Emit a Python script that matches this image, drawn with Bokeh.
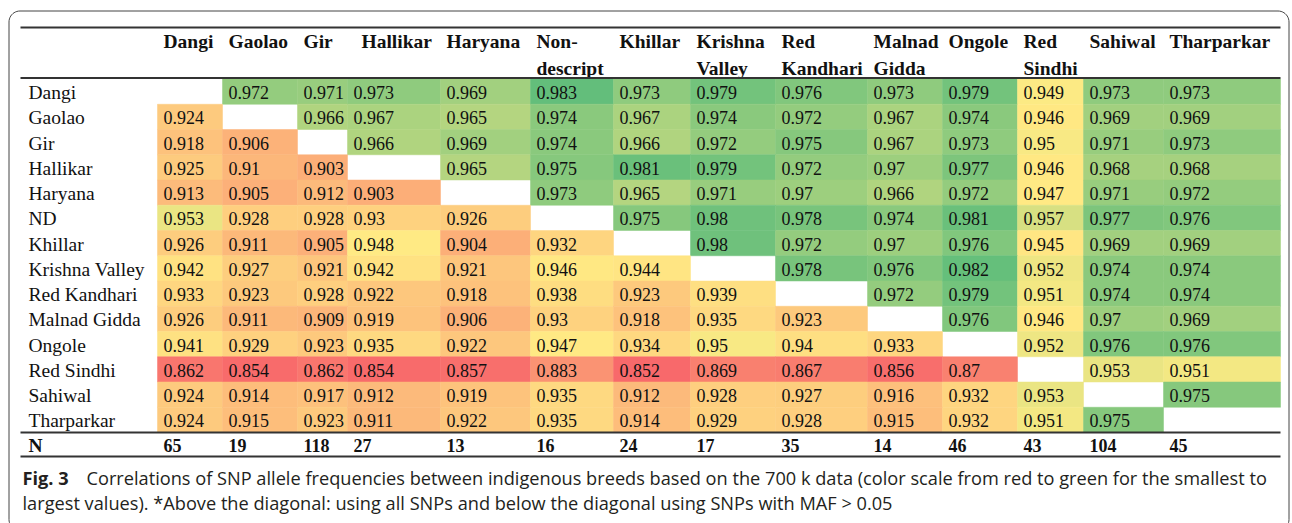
import numpy as np
from bokeh.plotting import figure
from bokeh.models import Range1d, LinearColorMapper, ColumnDataSource
from bokeh.core.properties import value
from bokeh.embed import file_html
from bokeh.resources import INLINE

# ---------------- data ----------------
col_headers = ["Dangi", "Gaolao", "Gir", "Hallikar", "Haryana", "Non-\ndescript", "Khillar",
               "Krishna\nValley", "Red\nKandhari", "Malnad\nGidda", "Ongole", "Red\nSindhi",
               "Sahiwal", "Tharparkar"]
row_labels = ["Dangi", "Gaolao", "Gir", "Hallikar", "Haryana", "ND", "Khillar", "Krishna Valley",
              "Red Kandhari", "Malnad Gidda", "Ongole", "Red Sindhi", "Sahiwal", "Tharparkar"]

r_dangi = [None, 0.972, 0.971, 0.973, 0.969, 0.983, 0.973, 0.979, 0.976, 0.973, 0.979, 0.949, 0.973, 0.973]
r_gaolao = [0.924, None, 0.966, 0.967, 0.965, 0.974, 0.967, 0.974, 0.972, 0.967, 0.974, 0.946, 0.969, 0.969]
r_gir = [0.918, 0.906, None, 0.966, 0.969, 0.974, 0.966, 0.972, 0.975, 0.967, 0.973, 0.95, 0.971, 0.973]
r_hallikar = [0.925, 0.91, 0.903, None, 0.965, 0.975, 0.981, 0.979, 0.972, 0.97, 0.977, 0.946, 0.968, 0.968]
r_haryana = [0.913, 0.905, 0.912, 0.903, None, 0.973, 0.965, 0.971, 0.97, 0.966, 0.972, 0.947, 0.971, 0.972]
r_nd = [0.953, 0.928, 0.928, 0.93, 0.926, None, 0.975, 0.98, 0.978, 0.974, 0.981, 0.957, 0.977, 0.976]
r_khillar = [0.926, 0.911, 0.905, 0.948, 0.904, 0.932, None, 0.98, 0.972, 0.97, 0.976, 0.945, 0.969, 0.969]
r_krishna = [0.942, 0.927, 0.921, 0.942, 0.921, 0.946, 0.944, None, 0.978, 0.976, 0.982, 0.952, 0.974, 0.974]
r_redkandhari = [0.933, 0.923, 0.928, 0.922, 0.918, 0.938, 0.923, 0.939, None, 0.972, 0.979, 0.951, 0.974, 0.974]
r_malnad = [0.926, 0.911, 0.909, 0.919, 0.906, 0.93, 0.918, 0.935, 0.923, None, 0.976, 0.946, 0.97, 0.969]
r_ongole = [0.941, 0.929, 0.923, 0.935, 0.922, 0.947, 0.934, 0.95, 0.94, 0.933, None, 0.952, 0.976, 0.976]
r_redsindhi = [0.862, 0.854, 0.862, 0.854, 0.857, 0.883, 0.852, 0.869, 0.867, 0.856, 0.87, None, 0.953, 0.951]
r_sahiwal = [0.924, 0.914, 0.917, 0.912, 0.919, 0.935, 0.912, 0.928, 0.927, 0.916, 0.932, 0.953, None, 0.975]
r_tharparkar = [0.924, 0.915, 0.923, 0.911, 0.922, 0.935, 0.914, 0.929, 0.928, 0.915, 0.932, 0.951, 0.975, None]

n_samples = [65, 19, 118, 27, 13, 16, 24, 17, 35, 14, 46, 43, 104, 45]

caption_bold = "Fig. 3"
caption_line1 = ("Correlations of SNP allele frequencies between indigenous breeds based on the 700 k data "
                 "(color scale from red to green for the smallest to")
caption_line2 = "largest values). *Above the diagonal: using all SNPs and below the diagonal using SNPs with MAF > 0.05"

corr = [r_dangi, r_gaolao, r_gir, r_hallikar, r_haryana, r_nd, r_khillar, r_krishna,
        r_redkandhari, r_malnad, r_ongole, r_redsindhi, r_sahiwal, r_tharparkar]

# ---------------- layout (page pixel coordinates) ----------------
W, H = 1292, 523
col_edges = [157, 222, 297, 347, 440, 530, 613, 690, 775, 867, 942, 1017, 1083, 1163, 1280]
header_shift = [0, 0, 0, 8, 0, 0, 0, 0, 0, 0, 0, 0, 0, 0]
table_left, table_right = 20, 1280
y_top_rule, y_head_rule = 27, 77.5
row_top = 78.5
row_h = (432 - row_top) / 14
y_n_rule = 432
y_bottom_rule = 456
pad = 6

SERIF = value("Liberation Serif")
FS_NUM = "18px"
FS_TXT = "19.5px"

p = figure(width=W, height=H, x_range=Range1d(0, W), y_range=Range1d(H, 0),
           output_backend="svg", toolbar_location=None, min_border=0)
p.axis.visible = False
p.grid.visible = False
p.outline_line_color = None
p.background_fill_color = "white"
p.border_fill_color = "white"

# ---- color mapper: Excel-style red - yellow - green with midpoint at median ----
vals = np.array([v for r in corr for v in r if v is not None])
vmin, vmax, vmid = vals.min(), vals.max(), np.percentile(vals, 50)
red = np.array([248, 105, 107]); yel = np.array([255, 235, 132]); grn = np.array([99, 190, 123])
f = (vmid - vmin) / (vmax - vmin)
pal = []
for k in range(256):
    t = k / 255
    if t <= f:
        c = red + (t / f) * (yel - red)
    else:
        c = yel + ((t - f) / (1 - f)) * (grn - yel)
    pal.append("#%02x%02x%02x" % tuple(int(round(x)) for x in c))
mapper = LinearColorMapper(palette=pal, low=vmin, high=vmax)

# ---- cells ----
L, R, T, B, V, TX, TY, TS = [], [], [], [], [], [], [], []
for i, row in enumerate(corr):
    for j, v in enumerate(row):
        if v is None:
            continue
        top = row_top + i * row_h
        L.append(col_edges[j]); R.append(col_edges[j + 1])
        T.append(top); B.append(top + row_h); V.append(v)
        TX.append(col_edges[j] + pad); TY.append(top + row_h / 2 + 1)
        TS.append(f"{v:g}")
src = ColumnDataSource(dict(left=L, right=R, top=T, bottom=B, v=V, tx=TX, ty=TY, ts=TS))
p.quad(left="left", right="right", top="top", bottom="bottom", source=src,
       fill_color={"field": "v", "transform": mapper}, line_color={"field": "v", "transform": mapper},
       line_width=0.5)
p.text(x="tx", y="ty", text="ts", source=src, text_font=SERIF, text_font_size=FS_NUM,
       text_baseline="middle", text_align="left", text_color="#111111")

# ---- row labels ----
p.text(x=[28] * len(row_labels), y=[row_top + (i + 0.5) * row_h + 1 for i in range(len(row_labels))],
       text=row_labels, text_font=SERIF, text_font_size=FS_TXT, text_baseline="middle",
       text_align="left", text_color="#111111")

# ---- column headers ----
hx, hy, ht = [], [], []
for j, h in enumerate(col_headers):
    for k, part in enumerate(h.split("\n")):
        hx.append(col_edges[j] + pad + header_shift[j])
        hy.append(41 + k * 27)
        ht.append(part)
p.text(x=hx, y=hy, text=ht, text_font=SERIF, text_font_size=FS_TXT, text_font_style="bold",
       text_baseline="middle", text_align="left", text_color="#111111")

# ---- N row ----
ny = (y_n_rule + y_bottom_rule) / 2 + 1
p.text(x=[28], y=[ny], text=["N"], text_font=SERIF, text_font_size=FS_TXT, text_font_style="bold",
       text_baseline="middle", text_align="left", text_color="#111111")
p.text(x=[col_edges[j] + pad for j in range(len(n_samples))], y=[ny] * len(n_samples),
       text=[str(n) for n in n_samples], text_font=SERIF, text_font_size=FS_NUM, text_font_style="bold",
       text_baseline="middle", text_align="left", text_color="#111111")

# ---- rules ----
for yy, lw in [(y_top_rule, 2), (y_head_rule, 2), (y_n_rule, 2), (y_bottom_rule, 2)]:
    p.line(x=[table_left, table_right], y=[yy, yy], line_color="#333333", line_width=lw)

# ---- rounded frame ----
x0, x1, y0, y1, rr = 8.5, 1288.5, 10.5, 530, 11
bx, by = [], []
def arc(cx, cy, a0, a1):
    th = np.linspace(a0, a1, 12)
    bx.extend(cx + rr * np.cos(th)); by.extend(cy + rr * np.sin(th))
arc(x0 + rr, y0 + rr, np.pi, 1.5 * np.pi)
arc(x1 - rr, y0 + rr, 1.5 * np.pi, 2 * np.pi)
arc(x1 - rr, y1 - rr, 0, 0.5 * np.pi)
arc(x0 + rr, y1 - rr, 0.5 * np.pi, np.pi)
bx.append(bx[0]); by.append(by[0])
p.line(x=bx, y=by, line_color="#444444", line_width=1)

# ---- caption ----
CAP = value("Open Sans")
p.text(x=[22], y=[477], text=[caption_bold], text_font=CAP, text_font_size="18.2px",
       text_font_style="bold", text_baseline="middle", text_color="#231f20")
p.text(x=[86, 22], y=[477, 502], text=[caption_line1, caption_line2], text_font=CAP,
       text_font_size="18.2px", text_baseline="middle", text_color="#231f20")

open("out.html", "w").write(file_html(p, INLINE))
